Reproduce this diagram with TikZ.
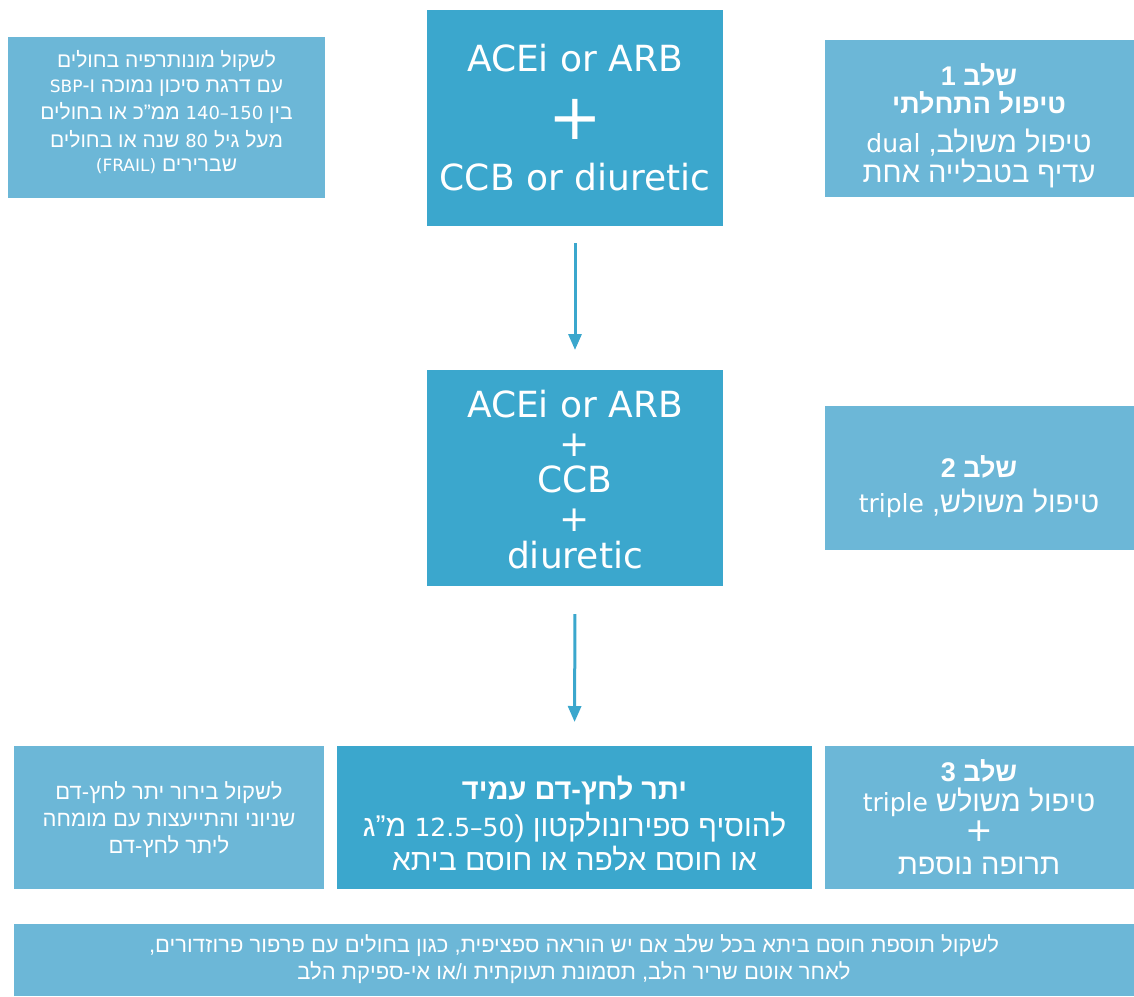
\documentclass[tikz,border=0pt]{standalone}
\usepackage{fontspec}
\usetikzlibrary{arrows.meta}
\setmainfont{DejaVu Sans}
\newfontfamily\heb[Script=Hebrew]{Liberation Sans}
\newfontfamily\lat{DejaVu Sans}
\TeXXeTstate=1
\newcommand\EN[2]{\beginL{\lat\fontsize{#1}{#1}\selectfont #2}\endL{}}
\newcommand\RL[1]{\beginR#1\endR}
\definecolor{darkbl}{HTML}{3BA7CD}
\definecolor{lightbl}{HTML}{6CB7D7}
\tikzset{
  boxbase/.style={inner sep=0pt, outer sep=0pt, draw=none},
  darkbox/.style={boxbase, fill=darkbl},
  lightbox/.style={boxbase, fill=lightbl},
  txt/.style={text=white, inner sep=0pt, align=center},
  big/.style={txt, font=\lat\fontsize{36}{40}\selectfont},
  stepb/.style={txt, font=\heb\bfseries\fontsize{27}{30}\selectfont},
  stepr/.style={txt, font=\heb\fontsize{29}{32}\selectfont},
  note/.style={txt, font=\heb\fontsize{21}{24}\selectfont},
  side/.style={txt, font=\heb\fontsize{22}{25}\selectfont},
  arr/.style={draw=darkbl, line width=3pt, -{Triangle[width=13pt,length=16pt]}}
}
\begin{document}
\begin{tikzpicture}[x=1pt,y=-1pt]
\useasboundingbox (0,0) rectangle (1134,996);
% boxes
\node[lightbox, minimum width=317pt, minimum height=161pt] (note1) at (166.5,117.5) {};
\node[darkbox, minimum width=296pt, minimum height=216pt] (top) at (575,118) {};
\node[lightbox, minimum width=309pt, minimum height=157pt] (s1) at (979.5,118.5) {};
\node[darkbox, minimum width=296pt, minimum height=216pt] (mid) at (575,478) {};
\node[lightbox, minimum width=309pt, minimum height=144pt] (s2) at (979.5,478) {};
\node[lightbox, minimum width=310pt, minimum height=143pt] (bl) at (169,817.5) {};
\node[darkbox, minimum width=475pt, minimum height=143pt] (bc) at (574.5,817.5) {};
\node[lightbox, minimum width=309pt, minimum height=143pt] (s3) at (979.5,817.5) {};
\node[lightbox, minimum width=1120pt, minimum height=72pt] (ban) at (574,960) {};
% arrows
\draw[arr, shorten <=17pt, shorten >=20pt] (top.south) -- (mid.north);
\draw[arr, shorten <=28pt, shorten >=24pt] (mid.south) -- (bc.north);
% top box
\node[big, anchor=base] (t1) at (575,71) {ACEi or ARB};
\node[txt, font=\lat\fontsize{64}{64}\selectfont] (t2) at (575,119) {+};
\node[big, anchor=base] (t3) at (575,190) {CCB or diuretic};
% mid box
\node[big, anchor=base] (m1) at (575,417) {ACEi or ARB};
\node[big] (m2) at (575,445) {+};
\node[big, anchor=base] (m3) at (575,492) {CCB};
\node[big] (m4) at (575,520) {+};
\node[big, anchor=base] (m5) at (575,568) {diuretic};
% note 1
\node[note] (n1) at (166.5,61) {\RL{לשקול מונותרפיה בחולים}};
\node[note] (n2) at (166.5,88) {\RL{עם דרגת סיכון נמוכה ו-\EN{17}{SBP}}};
\node[note] (n3) at (166.5,113) {\RL{בין \EN{18}{140–150} ממ”כ או בחולים}};
\node[note] (n4) at (166.5,139) {\RL{מעל גיל \EN{18}{80} שנה או בחולים}};
\node[note] (n5) at (166.5,166) {\RL{שברירים \EN{17}{(FRAIL)}}};
% step 1
\node[stepb] (s1a) at (979,75) {\RL{שלב 1}};
\node[stepb] (s1b) at (979,103) {\RL{טיפול התחלתי}};
\node[stepr] (s1c) at (979,143) {\RL{טיפול משולב, \EN{25}{dual}}};
\node[stepr] (s1d) at (979,173) {\RL{עדיף בטבלייה אחת}};
% step 2
\node[stepb] (s2a) at (979,467) {\RL{שלב 2}};
\node[stepr] (s2b) at (979,503) {\RL{טיפול משולש, \EN{25}{triple}}};
% step 3
\node[stepb] (s3a) at (979,771) {\RL{שלב 3}};
\node[stepr] (s3b) at (979,802) {\RL{טיפול משולש \EN{25}{triple}}};
\node[txt, font=\lat\fontsize{33}{33}\selectfont] (s3c) at (979,831) {+};
\node[stepr] (s3d) at (979,866) {\RL{תרופה נוספת}};
% bottom left
\node[side] (b1) at (169,793) {\RL{לשקול בירור יתר לחץ-דם}};
\node[side] (b2) at (169,820) {\RL{שניוני והתייעצות עם מומחה}};
\node[side] (b3) at (169,847) {\RL{ליתר לחץ-דם}};
% bottom center
\node[txt, font=\heb\bfseries\fontsize{29}{32}\selectfont] (c1) at (574.5,790) {\RL{יתר לחץ-דם עמיד}};
\node[txt, font=\heb\fontsize{30}{33}\selectfont] (c2) at (574.5,827) {\RL{להוסיף ספירונולקטון (\EN{25}{12.5–50} מ”ג}};
\node[txt, font=\heb\fontsize{30}{33}\selectfont] (c3) at (574.5,859) {\RL{או חוסם אלפה או חוסם ביתא}};
% banner
\node[txt, font=\heb\fontsize{22}{25}\selectfont] (w1) at (574,946) {\RL{לשקול תוספת חוסם ביתא בכל שלב אם יש הוראה ספציפית, כגון בחולים עם פרפור פרוזדורים,}};
\node[txt, font=\heb\fontsize{22}{25}\selectfont] (w2) at (574,973) {\RL{לאחר אוטם שריר הלב, תסמונת תעוקתית ו/או אי-ספיקת הלב}};
\end{tikzpicture}
\end{document}
